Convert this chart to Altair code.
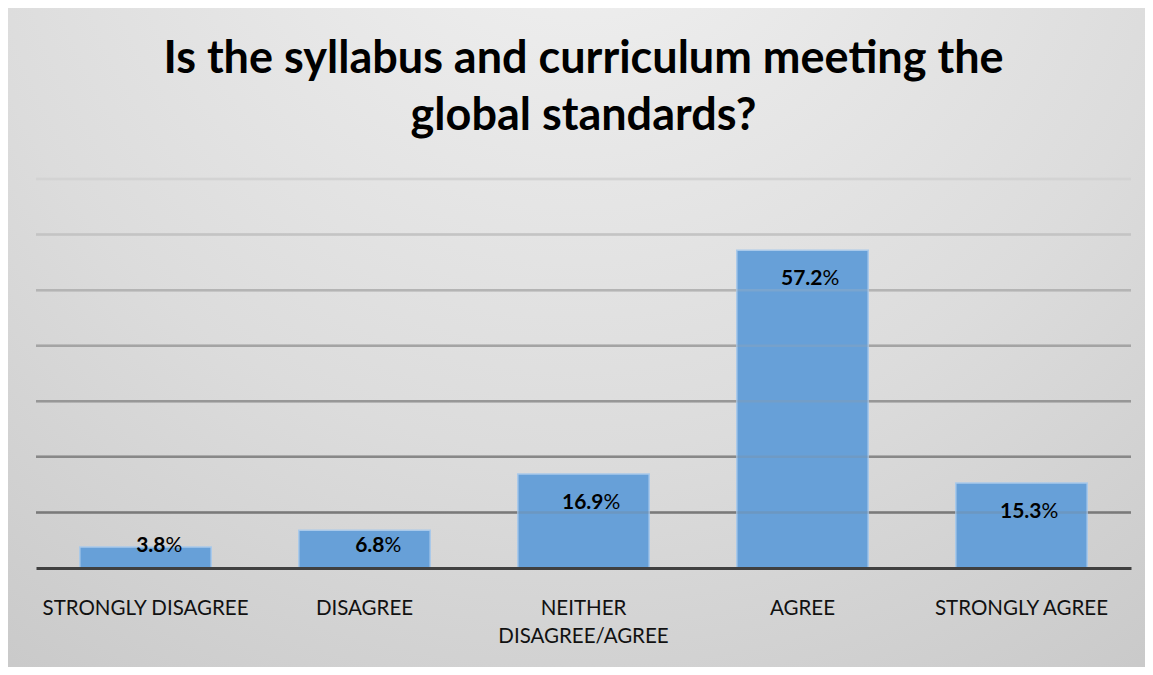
import altair as alt
import pandas as pd

categories = ["STRONGLY DISAGREE", "DISAGREE", "NEITHER DISAGREE/AGREE", "AGREE", "STRONGLY AGREE"]
values = [3.8, 6.8, 16.9, 57.2, 15.3]
grid_values = [10, 20, 30, 40, 50, 60, 70]
title_lines = ["Is the syllabus and curriculum meeting the", "global standards?"]

df = pd.DataFrame({"cat": categories, "value": values})
grid_df = pd.DataFrame({"v": grid_values})
bg_df = pd.DataFrame({"a": [0]})

FONT = "Lato"
W, H = 1095, 389
yscale = alt.Scale(domain=[0, 70], nice=False, zero=True)

bg_gradient = {
    "gradient": "radial",
    "x1": 0.5, "y1": 0.05, "r1": 0,
    "x2": 0.5, "y2": 0.05, "r2": 1.0,
    "stops": [
        {"offset": 0, "color": "#f3f3f3"},
        {"offset": 0.55, "color": "#dcdcdc"},
        {"offset": 1, "color": "#c4c4c4"},
    ],
}

bg = alt.Chart(bg_df).mark_rect(fill=bg_gradient).encode(
    x=alt.value(-28), x2=alt.value(1109), y=alt.value(-171), y2=alt.value(488)
)

title1 = alt.Chart(pd.DataFrame({"t": [title_lines[0]]})).mark_text(
    font=FONT, fontSize=45, fontWeight="bold", color="#000000", align="center", baseline="alphabetic"
).encode(x=alt.value(W / 2), y=alt.value(-106), text="t:N")

title2 = alt.Chart(pd.DataFrame({"t": [title_lines[1]]})).mark_text(
    font=FONT, fontSize=45, fontWeight="bold", color="#000000", align="center", baseline="alphabetic"
).encode(x=alt.value(W / 2), y=alt.value(-49), text="t:N")

grid_under = alt.Chart(grid_df).mark_rule(strokeWidth=2.5).encode(
    y=alt.Y("v:Q", scale=yscale, axis=None),
    color=alt.Color("v:Q", scale=alt.Scale(domain=[10, 70], range=["#7a7a7a", "#d3d3d3"]), legend=None),
)

grid_over = alt.Chart(grid_df).mark_rule(strokeWidth=2.5, opacity=0.25).encode(
    y=alt.Y("v:Q", scale=yscale, axis=None),
    color=alt.Color("v:Q", scale=alt.Scale(domain=[10, 70], range=["#2a2a2a", "#dddddd"]), legend=None),
)

xaxis = alt.Axis(
    title=None,
    labelAngle=0,
    labelFont=FONT,
    labelFontSize=20.5,
    labelColor="#111111",
    ticks=False,
    labelPadding=30,
    labelLineHeight=28,
    labelLimit=400,
    domainColor="#404040",
    domainWidth=3,
    grid=False,
    zindex=2,
    labelExpr="datum.label == 'NEITHER DISAGREE/AGREE' ? ['NEITHER', 'DISAGREE/AGREE'] : datum.label",
)

xenc = alt.X(
    "cat:N",
    sort=categories,
    scale=alt.Scale(paddingInner=0.4, paddingOuter=0.2),
    axis=xaxis,
)

bars = alt.Chart(df).mark_bar(fill="#67a0d8", stroke="#a9c9ea", strokeWidth=1.5).encode(
    x=xenc,
    y=alt.Y("value:Q", scale=yscale, axis=None),
)

labels_base = alt.Chart(df).transform_calculate(
    ly="max(datum.value - 5.2, 4)",
    num="format(datum.value, '.1f')",
    pct="'%'",
)

num_text = labels_base.mark_text(
    font=FONT, fontSize=21, fontWeight="bold", color="#000000", align="right", baseline="middle", dx=20
).encode(x=alt.X("cat:N", sort=categories, axis=xaxis), y=alt.Y("ly:Q", scale=yscale, axis=None), text="num:N")

pct_text = labels_base.mark_text(
    font=FONT, fontSize=21, fontWeight="normal", color="#000000", align="left", baseline="middle", dx=20
).encode(x=alt.X("cat:N", sort=categories, axis=xaxis), y=alt.Y("ly:Q", scale=yscale, axis=None), text="pct:N")

chart = alt.layer(bg, title1, title2, grid_under, bars, grid_over, num_text, pct_text).properties(
    width=W,
    height=H,
    autosize=alt.AutoSizeParams(type="none"),
    padding={"left": 28, "top": 171, "right": 14, "bottom": 99},
).configure_view(stroke=None)

chart.save("out.html", embed_options={"renderer": "svg", "actions": False})
